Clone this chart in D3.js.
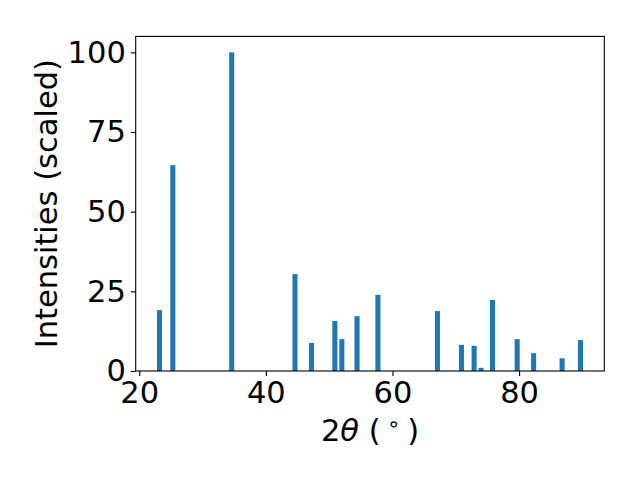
<!DOCTYPE html>
<html>
<head>
<meta charset="utf-8">
<script src="https://cdn.jsdelivr.net/npm/d3@7"></script>
<style>
  html, body { margin: 0; padding: 0; background: #fff; }
  svg { display: block; font-family: "DejaVu Sans", sans-serif; }
</style>
</head>
<body>
<svg id="chart" width="640" height="480"></svg>
<script>
// Data (2θ peak positions in degrees, scaled intensities)
const angles = [23.2, 25.3, 34.6, 44.6, 47.2, 50.9, 52.0, 54.4, 57.7, 67.1, 70.9, 72.9, 74.0, 75.8, 79.7, 82.3, 86.8, 89.7];
const intensities = [19.1, 64.6, 100, 30.4, 8.8, 15.7, 10.0, 17.2, 23.9, 18.8, 8.2, 7.9, 1.0, 22.3, 10.0, 5.6, 4.0, 9.7];
const xTicks = [20, 40, 60, 80];
const yTicks = [0, 25, 50, 75, 100];
const barWidth = 0.8;

const FS = 30.5;
const svg = d3.select("#chart");
const mLeft = 135.7, mRight = 604.3, mTop = 36.4, mBottom = 371;

const xMin = d3.min(angles) - barWidth / 2, xMax = d3.max(angles) + barWidth / 2;
const xPad = (xMax - xMin) * 0.05;
const x = d3.scaleLinear().domain([xMin - xPad, xMax + xPad]).range([mLeft, mRight]);
const y = d3.scaleLinear().domain([0, d3.max(intensities) * 1.05]).range([mBottom, mTop]);

const data = angles.map((a, i) => ({ a, v: intensities[i] }));

svg.append("g").selectAll("rect").data(data).enter().append("rect")
  .attr("x", d => x(d.a - barWidth / 2))
  .attr("width", d => x(d.a + barWidth / 2) - x(d.a - barWidth / 2))
  .attr("y", d => y(d.v))
  .attr("height", d => y(0) - y(d.v))
  .attr("fill", "#1f77b4");

// Axes
const xAxis = d3.axisBottom(x).tickValues(xTicks).tickSize(4.9).tickPadding(5).tickFormat(d3.format("d"));
const yAxis = d3.axisLeft(y).tickValues(yTicks).tickSize(4.9).tickPadding(5).tickFormat(d3.format("d"));

const gx = svg.append("g").attr("transform", `translate(0,${mBottom})`).call(xAxis);
const gy = svg.append("g").attr("transform", `translate(${mLeft},0)`).call(yAxis);
[gx, gy].forEach(g => {
  g.select(".domain").remove();
  g.selectAll(".tick line").attr("stroke", "#000").attr("stroke-width", 1.1);
  g.selectAll(".tick text").attr("fill", "#000").style("font-size", FS + "px").style("font-family", "DejaVu Sans, sans-serif");
});

// Frame
svg.append("rect").attr("x", mLeft).attr("y", mTop)
  .attr("width", mRight - mLeft).attr("height", mBottom - mTop)
  .attr("fill", "none").attr("stroke", "#000").attr("stroke-width", 1.1);

// Labels
const xl = svg.append("text").attr("x", (mLeft + mRight) / 2).attr("y", 441)
  .attr("text-anchor", "middle").style("font-size", FS + "px").attr("fill", "#000");
xl.append("tspan").text("2");
xl.append("tspan").attr("font-style", "italic").text("θ");
xl.append("tspan").text(" (");
xl.append("tspan").attr("dy", "-10").style("font-size", "21px").text(" ∘ ");
xl.append("tspan").attr("dy", "10").text(")");

svg.append("text")
  .attr("transform", `translate(57,${(mTop + mBottom) / 2}) rotate(-90)`)
  .attr("text-anchor", "middle").style("font-size", FS + "px").attr("fill", "#000")
  .text("Intensities (scaled)");
</script>
</body>
</html>
